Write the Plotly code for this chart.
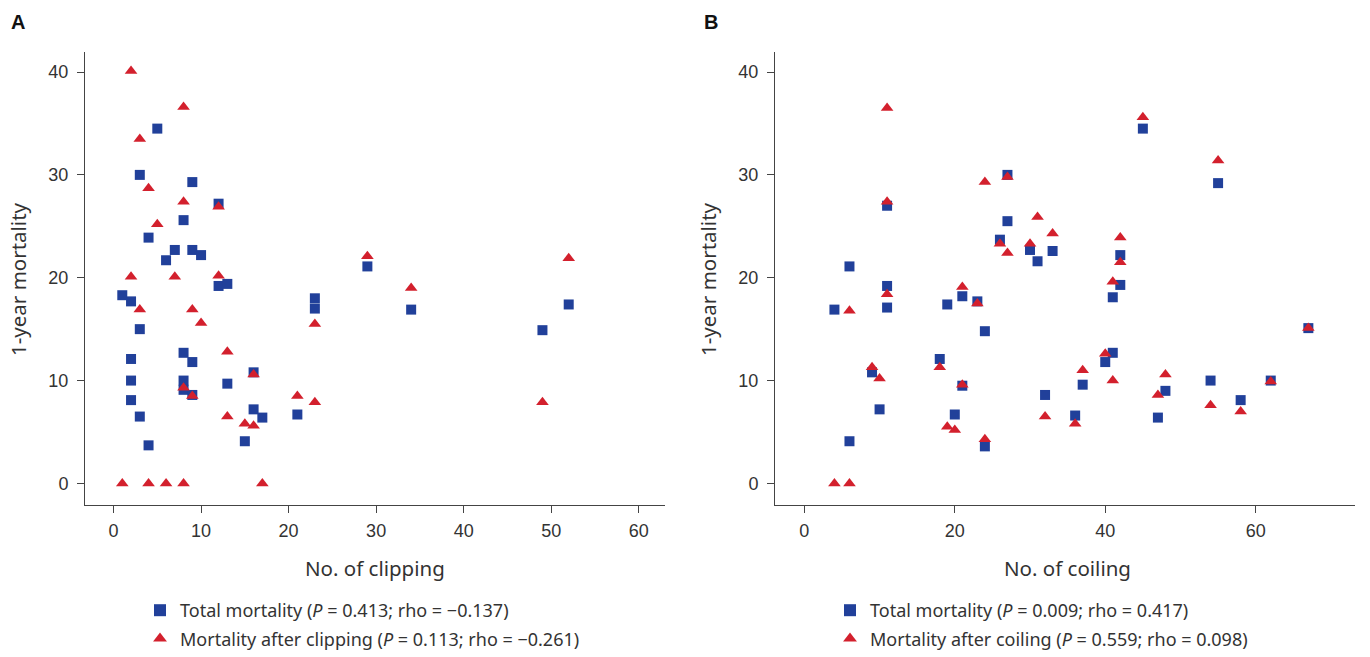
import plotly.graph_objects as go

# ---------------- Data ----------------
# Panel A: No. of clipping vs 1-year mortality
clip_total_x = [1, 2, 2, 2, 2, 3, 3, 3, 4, 4, 5, 6, 7, 8, 8, 8, 8, 9, 9, 9, 9, 10,
                12, 12, 13, 13, 15, 16, 16, 17, 21, 23, 23, 29, 34, 49, 52]
clip_total_y = [18.3, 17.7, 12.1, 10.0, 8.1, 30.0, 15.0, 6.5, 23.9, 3.7, 34.5, 21.7, 22.7,
                25.6, 12.7, 10.0, 9.1, 29.3, 22.7, 11.8, 8.6, 22.2, 27.2, 19.2, 19.4, 9.7,
                4.1, 10.8, 7.2, 6.4, 6.7, 18.0, 17.0, 21.1, 16.9, 14.9, 17.4]
clip_after_x = [1, 2, 2, 3, 3, 4, 4, 5, 6, 7, 8, 8, 8, 8, 9, 9, 10, 12, 12, 13, 13,
                15, 16, 16, 17, 21, 23, 23, 29, 34, 49, 52]
clip_after_y = [0.0, 40.1, 20.1, 33.5, 16.9, 28.7, 0.0, 25.2, 0.0, 20.1, 36.6, 27.4, 9.3, 0.0,
                16.9, 8.5, 15.6, 26.9, 20.2, 12.8, 6.5, 5.8, 10.6, 5.6, 0.0, 8.5, 15.5, 7.9,
                22.1, 19.0, 7.9, 21.9]

# Panel B: No. of coiling vs 1-year mortality
coil_total_x = [4, 6, 6, 9, 10, 11, 11, 11, 18, 19, 20, 21, 21, 23, 24, 24, 26, 27, 27,
                30, 31, 32, 33, 36, 37, 40, 41, 41, 42, 42, 45, 47, 48, 54, 55, 58, 62, 67]
coil_total_y = [16.9, 21.1, 4.1, 10.8, 7.2, 27.0, 19.2, 17.1, 12.1, 17.4, 6.7, 18.2, 9.5,
                17.7, 14.8, 3.6, 23.7, 30.0, 25.5, 22.7, 21.6, 8.6, 22.6, 6.6, 9.6, 11.8,
                18.1, 12.7, 22.2, 19.3, 34.5, 6.4, 9.0, 10.0, 29.2, 8.1, 10.0, 15.1]
coil_after_x = [4, 6, 6, 9, 10, 11, 11, 11, 18, 19, 20, 21, 21, 23, 24, 24, 26, 27, 27,
                30, 31, 32, 33, 36, 37, 40, 41, 41, 42, 42, 45, 47, 48, 55, 54, 58, 62, 67]
coil_after_y = [0.0, 0.0, 16.8, 11.3, 10.2, 36.5, 27.4, 18.4, 11.3, 5.5, 5.2, 19.1, 9.6,
                17.5, 29.3, 4.3, 23.3, 29.8, 22.4, 23.3, 25.9, 6.5, 24.3, 5.8, 11.0, 12.6,
                19.6, 10.0, 23.9, 21.5, 35.6, 8.6, 10.6, 31.4, 7.6, 7.0, 9.9, 15.1]

y_ticks = [0, 10, 20, 30, 40]
xA_ticks = [0, 10, 20, 30, 40, 50, 60]
xB_ticks = [0, 20, 40, 60]

names_A = ["Total mortality (<i>P</i> = 0.413; rho = \u22120.137)",
           "Mortality after clipping (<i>P</i> = 0.113; rho = \u22120.261)"]
names_B = ["Total mortality (<i>P</i> = 0.009; rho = 0.417)",
           "Mortality after coiling (<i>P</i> = 0.559; rho = 0.098)"]
x_titles = ["No. of clipping", "No. of coiling"]
y_title = "1-year mortality"

# ---------------- Style ----------------
W, H = 1370, 657
BLUE = "#21409A"
RED = "#D3202D"
TXT = "#333333"
TICKFONT = dict(family="Liberation Sans, Arial, sans-serif", size=18, color=TXT)
LABFONT = dict(family="Noto Sans, Open Sans, sans-serif", size=18, color=TXT)


def px_x(p):
    return p / W


def px_y(p):
    return 1 - p / H


fig = go.Figure()

sq = dict(symbol="square", size=10, color=BLUE)
tri = dict(symbol="triangle-up", size=11, color=RED)

fig.add_trace(go.Scatter(x=clip_total_x, y=clip_total_y, mode="markers", marker=sq,
                         name=names_A[0], xaxis="x", yaxis="y", legend="legend",
                         legendgroup="a1"))
fig.add_trace(go.Scatter(x=clip_after_x, y=clip_after_y, mode="markers", marker=tri,
                         name=names_A[1], xaxis="x", yaxis="y", legend="legend",
                         legendgroup="a2"))
fig.add_trace(go.Scatter(x=coil_total_x, y=coil_total_y, mode="markers", marker=sq,
                         name=names_B[0], xaxis="x2", yaxis="y2", legend="legend2",
                         legendgroup="b1"))
fig.add_trace(go.Scatter(x=coil_after_x, y=coil_after_y, mode="markers", marker=tri,
                         name=names_B[1], xaxis="x2", yaxis="y2", legend="legend2",
                         legendgroup="b2"))

y_dom = [px_y(505), px_y(52)]
y_rng = [-2.1, 41.95]

common_x = dict(showline=True, linecolor="#444444", linewidth=1, ticks="outside",
                ticklen=7, tickcolor="#444444", showgrid=False, zeroline=False,
                tickfont=TICKFONT, ticklabelstandoff=2)
common_y = dict(showline=True, linecolor="#444444", linewidth=1, ticks="outside",
                ticklen=7, tickcolor="#444444", showgrid=False, zeroline=False,
                tickfont=TICKFONT, tickvals=y_ticks, range=y_rng, domain=y_dom,
                ticklabelstandoff=5)

legend_common = dict(font=LABFONT, bgcolor="rgba(0,0,0,0)", borderwidth=0,
                     xanchor="left", yanchor="bottom", traceorder="grouped",
                     tracegroupgap=2, itemsizing="constant")

fig.update_layout(
    width=W, height=H, autosize=False,
    margin=dict(l=0, r=0, t=0, b=0),
    paper_bgcolor="white", plot_bgcolor="white",
    showlegend=True,
    xaxis=dict(common_x, domain=[px_x(85), px_x(665)], range=[-3.26, 63.0],
               tickvals=xA_ticks, anchor="y"),
    yaxis=dict(common_y, anchor="x"),
    xaxis2=dict(common_x, domain=[px_x(775), px_x(1355)], range=[-3.9, 73.2],
                tickvals=xB_ticks, anchor="y2"),
    yaxis2=dict(common_y, anchor="x2"),
    legend=dict(legend_common, x=px_x(140), y=0),
    legend2=dict(legend_common, x=px_x(830), y=0),
)

TITLEFONT = dict(LABFONT, size=20.5)
ann = []
# axis titles
ann.append(dict(text=x_titles[0], x=px_x(375), y=px_y(568), xref="paper", yref="paper",
                showarrow=False, font=TITLEFONT, xanchor="center", yanchor="middle"))
ann.append(dict(text=x_titles[1], x=px_x(1067), y=px_y(568), xref="paper", yref="paper",
                showarrow=False, font=TITLEFONT, xanchor="center", yanchor="middle"))
ann.append(dict(text=y_title, x=px_x(18), y=px_y(279), xref="paper", yref="paper",
                showarrow=False, font=TITLEFONT, textangle=-90,
                xanchor="center", yanchor="middle"))
ann.append(dict(text=y_title, x=px_x(708), y=px_y(279), xref="paper", yref="paper",
                showarrow=False, font=TITLEFONT, textangle=-90,
                xanchor="center", yanchor="middle"))
# panel letters
ann.append(dict(text="<b>A</b>", x=px_x(18), y=px_y(22), xref="paper", yref="paper",
                showarrow=False, font=dict(family="Liberation Sans, Arial", size=20, color="#111"),
                xanchor="center", yanchor="middle"))
ann.append(dict(text="<b>B</b>", x=px_x(711), y=px_y(22), xref="paper", yref="paper",
                showarrow=False, font=dict(family="Liberation Sans, Arial", size=20, color="#111"),
                xanchor="center", yanchor="middle"))
fig.update_layout(annotations=ann)

fig.write_html("out.html",
               config={"displayModeBar": False, "responsive": False},
               post_script="document.body.style.margin='0';document.body.style.overflow='hidden';")
